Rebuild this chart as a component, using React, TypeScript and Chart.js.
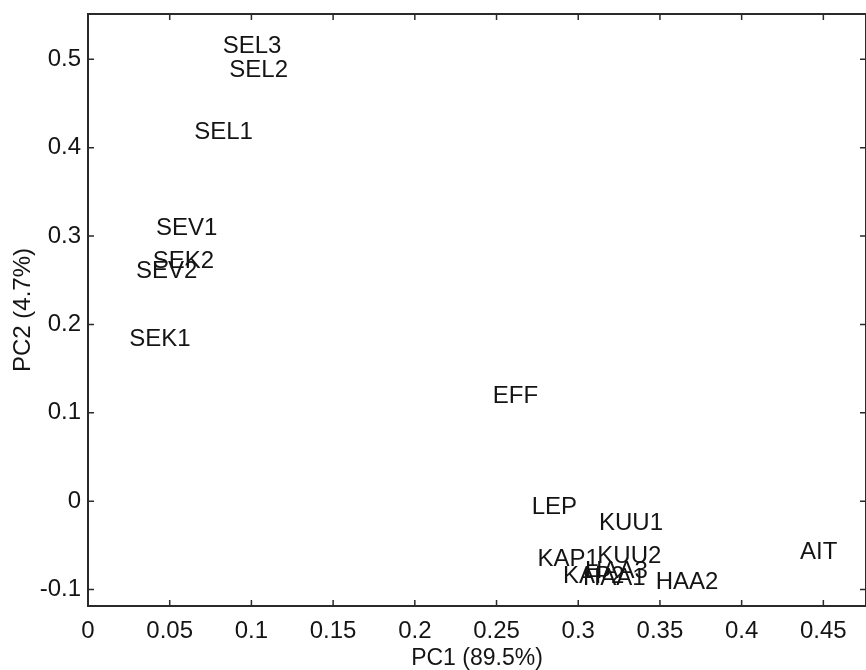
import React, { useEffect, useRef } from "react";
import { Chart, registerables } from "chart.js";

Chart.register(...registerables);

const sampleNames = ["SEL3", "SEL2", "SEL1", "SEV1", "SEK2", "SEV2", "SEK1", "EFF", "LEP", "KUU1", "KAP1", "KUU2", "HAA3", "KAP2", "HAA1", "HAA2", "AIT"];
const pc1Values = [0.0824, 0.0865, 0.065, 0.0416, 0.0396, 0.0294, 0.0253, 0.2477, 0.2715, 0.3127, 0.275, 0.3117, 0.3042, 0.2907, 0.3029, 0.3474, 0.4357];
const pc2Values = [0.5143, 0.487, 0.4179, 0.309, 0.2719, 0.2606, 0.1831, 0.1183, -0.0066, -0.0247, -0.0662, -0.0625, -0.0792, -0.0849, -0.0872, -0.0915, -0.0577];

const xTickValues = [0, 0.05, 0.1, 0.15, 0.2, 0.25, 0.3, 0.35, 0.4, 0.45];
const xTickLabels = ["0", "0.05", "0.1", "0.15", "0.2", "0.25", "0.3", "0.35", "0.4", "0.45"];
const yTickValues = [-0.1, 0, 0.1, 0.2, 0.3, 0.4, 0.5];
const yTickLabels = ["-0.1", "0", "0.1", "0.2", "0.3", "0.4", "0.5"];

const xAxisTitle = "PC1 (89.5%)";
const yAxisTitle = "PC2 (4.7%)";

const FONT = "'Liberation Sans', Arial, Helvetica, sans-serif";
const INK = "#141414";

const framePlugin = {
  id: "frameTicks",
  afterDraw(chart: any) {
    const { ctx, chartArea } = chart;
    const { left, right, top, bottom } = chartArea;
    const xs = chart.scales.x;
    const ys = chart.scales.y;
    ctx.save();
    ctx.strokeStyle = "#2a2a2a";
    ctx.lineWidth = 2;
    ctx.strokeRect(left, top, right - left, bottom - top);
    ctx.lineWidth = 1.5;
    const tl = 6;
    ctx.beginPath();
    xTickValues.forEach((v) => {
      const px = xs.getPixelForValue(v);
      ctx.moveTo(px, bottom);
      ctx.lineTo(px, bottom - tl);
      ctx.moveTo(px, top);
      ctx.lineTo(px, top + tl);
    });
    yTickValues.forEach((v) => {
      const py = ys.getPixelForValue(v);
      ctx.moveTo(left, py);
      ctx.lineTo(left + tl, py);
      ctx.moveTo(right, py);
      ctx.lineTo(right - tl, py);
    });
    ctx.stroke();
    ctx.restore();
  },
};

const labelPlugin = {
  id: "pointLabels",
  afterDatasetsDraw(chart: any) {
    const { ctx } = chart;
    const meta = chart.getDatasetMeta(0);
    ctx.save();
    ctx.fillStyle = INK;
    ctx.font = `24px ${FONT}`;
    ctx.textAlign = "left";
    ctx.textBaseline = "middle";
    meta.data.forEach((el: any, i: number) => {
      ctx.fillText(sampleNames[i], el.x, el.y);
    });
    ctx.restore();
  },
};

export default function App() {
  const canvasRef = useRef<HTMLCanvasElement | null>(null);

  useEffect(() => {
    if (!canvasRef.current) return;
    const data = pc1Values.map((x, i) => ({ x, y: pc2Values[i] }));
    const chart = new Chart(canvasRef.current, {
      type: "scatter",
      data: {
        datasets: [
          {
            label: "samples",
            data,
            pointRadius: 0,
            pointHoverRadius: 0,
            backgroundColor: "transparent",
            borderColor: "transparent",
          },
        ],
      },
      options: {
        responsive: false,
        animation: false,
        events: [],
        layout: { padding: { left: 0, right: 0, top: 14, bottom: 0 } },
        plugins: {
          legend: { display: false },
          tooltip: { enabled: false },
        },
        scales: {
          x: {
            type: "linear",
            min: 0,
            max: 0.4761,
            grid: { display: false, drawTicks: false },
            border: { display: false },
            afterBuildTicks: (scale: any) => {
              scale.ticks = xTickValues.map((v) => ({ value: v }));
            },
            afterFit: (scale: any) => {
              scale.height = 64;
              scale.paddingLeft = 0;
              scale.paddingRight = 0;
            },
            ticks: {
              autoSkip: false,
              maxRotation: 0,
              padding: 11,
              color: INK,
              font: { family: FONT, size: 24 },
              callback: (_v: any, i: number) => xTickLabels[i],
            },
            title: {
              display: true,
              text: xAxisTitle,
              color: INK,
              font: { family: FONT, size: 23 },
              padding: { top: 0, bottom: -2 },
            },
          },
          y: {
            type: "linear",
            min: -0.1186,
            max: 0.5513,
            grid: { display: false, drawTicks: false },
            border: { display: false },
            afterBuildTicks: (scale: any) => {
              scale.ticks = yTickValues.map((v) => ({ value: v }));
            },
            afterFit: (scale: any) => {
              scale.width = 88;
              scale.paddingTop = 0;
              scale.paddingBottom = 0;
            },
            ticks: {
              autoSkip: false,
              padding: 7,
              color: INK,
              font: { family: FONT, size: 24 },
              callback: (_v: any, i: number) => yTickLabels[i],
            },
            title: {
              display: true,
              text: yAxisTitle,
              color: INK,
              font: { family: FONT, size: 24 },
              padding: { top: 9, bottom: 0 },
            },
          },
        },
      },
      plugins: [framePlugin, labelPlugin],
    });
    return () => chart.destroy();
  }, []);

  return (
    <div style={{ position: "absolute", left: 0, top: 0, width: 866, height: 670, background: "#fff" }}>
      <canvas ref={canvasRef} width={866} height={670} />
    </div>
  );
}
